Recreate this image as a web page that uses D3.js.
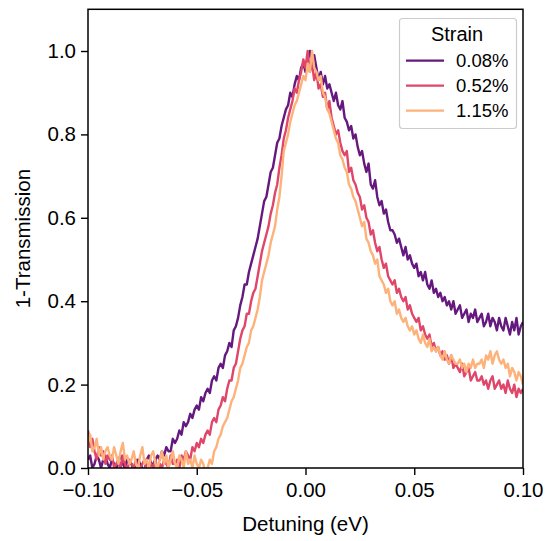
<!DOCTYPE html>
<html>
<head>
<meta charset="utf-8">
<script src="https://cdn.jsdelivr.net/npm/d3@7"></script>
<style>
  html, body { margin: 0; padding: 0; background: #fff; }
  svg { display: block; }
  text { font-family: "Liberation Sans", Arial, sans-serif; fill: #000; }
</style>
</head>
<body>
<svg id="chart" width="549" height="541"></svg>
<script>
// ---- data ----
const xStart = -0.100, xStep = 0.001;   // detuning grid (eV), 201 samples
const seriesNames = ["0.08%", "0.52%", "1.15%"];
const seriesColors = ["#65197f", "#df4669", "#fdb27b"];
const xTicks = [-0.10, -0.05, 0.00, 0.05, 0.10];
const yTicks = [0.0, 0.2, 0.4, 0.6, 0.8, 1.0];

const strain008 = [
  0.02,0.03,0.00,0.01,0.03,0.02,0.00,0.02,0.03,0.01,
  0.00,0.02,0.01,-0.01,0.02,0.03,0.01,0.00,0.02,0.01,
  0.01,-0.01,0.00,0.02,0.01,0.00,-0.01,0.02,0.03,0.01,
  0.01,0.02,0.03,0.02,0.04,0.03,0.05,0.04,0.04,0.07,
  0.06,0.07,0.09,0.08,0.11,0.10,0.11,0.13,0.12,0.14,
  0.15,0.14,0.17,0.16,0.18,0.19,0.18,0.21,0.22,0.21,
  0.24,0.25,0.24,0.27,0.28,0.30,0.29,0.33,0.34,0.36,
  0.39,0.41,0.44,0.44,0.47,0.49,0.51,0.53,0.55,0.58,
  0.61,0.64,0.65,0.68,0.71,0.72,0.75,0.78,0.79,0.82,
  0.84,0.86,0.87,0.90,0.89,0.92,0.94,0.93,0.96,0.97,
  0.95,0.98,1.00,0.97,0.99,0.96,0.93,0.95,0.92,0.94,
  0.91,0.92,0.90,0.88,0.90,0.87,0.86,0.88,0.84,0.83,
  0.81,0.82,0.79,0.80,0.77,0.75,0.76,0.73,0.71,0.73,
  0.68,0.67,0.69,0.65,0.63,0.64,0.61,0.62,0.59,0.57,
  0.57,0.56,0.54,0.55,0.53,0.51,0.53,0.50,0.51,0.49,
  0.48,0.49,0.46,0.47,0.45,0.47,0.44,0.43,0.45,0.42,
  0.43,0.41,0.42,0.40,0.41,0.39,0.40,0.38,0.40,0.37,
  0.38,0.39,0.36,0.37,0.38,0.35,0.37,0.36,0.38,0.35,
  0.36,0.37,0.34,0.35,0.37,0.34,0.36,0.35,0.33,0.36,
  0.34,0.33,0.36,0.34,0.32,0.35,0.33,0.36,0.32,0.34,
  0.35
];
const strain052 = [
  0.09,0.05,0.07,0.04,0.02,0.05,0.03,0.04,0.01,0.03,
  0.02,0.03,0.00,0.01,0.02,0.00,0.03,0.01,-0.01,0.02,
  0.01,0.00,0.02,-0.01,0.00,0.01,0.02,-0.01,0.00,0.01,
  0.00,0.02,-0.01,0.01,0.00,0.02,0.01,0.00,0.03,0.01,
  0.01,0.02,0.00,0.03,0.02,0.04,0.03,0.02,0.05,0.04,
  0.06,0.05,0.07,0.06,0.08,0.09,0.08,0.11,0.12,0.11,
  0.14,0.15,0.17,0.16,0.19,0.21,0.21,0.24,0.25,0.28,
  0.31,0.33,0.34,0.37,0.37,0.40,0.42,0.43,0.46,0.49,
  0.52,0.54,0.56,0.58,0.61,0.63,0.66,0.68,0.72,0.75,
  0.79,0.81,0.84,0.86,0.88,0.91,0.90,0.93,0.95,0.98,
  0.96,1.00,0.95,0.97,0.93,0.95,0.91,0.92,0.89,0.90,
  0.86,0.88,0.84,0.82,0.80,0.81,0.78,0.76,0.75,0.76,
  0.71,0.72,0.69,0.68,0.66,0.65,0.62,0.63,0.60,0.59,
  0.56,0.57,0.54,0.52,0.53,0.50,0.48,0.49,0.46,0.45,
  0.44,0.45,0.42,0.43,0.41,0.40,0.41,0.38,0.39,0.37,
  0.36,0.35,0.36,0.33,0.34,0.32,0.31,0.32,0.29,0.30,
  0.28,0.29,0.27,0.28,0.26,0.27,0.25,0.27,0.24,0.25,
  0.24,0.23,0.25,0.22,0.23,0.24,0.21,0.22,0.23,0.21,
  0.21,0.22,0.20,0.21,0.19,0.21,0.22,0.19,0.20,0.21,
  0.19,0.20,0.18,0.21,0.19,0.18,0.20,0.17,0.19,0.18,
  0.19
];
const strain115 = [
  0.06,0.08,0.04,0.05,0.07,0.03,0.05,0.02,0.04,0.05,
  0.03,0.02,0.05,0.03,0.01,0.04,0.06,0.02,0.03,0.01,
  0.02,0.04,0.01,0.00,0.03,0.05,0.01,0.02,0.00,0.03,
  0.04,0.01,0.00,0.02,0.04,0.01,0.03,0.00,0.02,0.04,
  0.01,0.00,0.03,0.02,0.00,0.04,0.01,0.02,0.00,0.03,
  0.01,0.00,0.02,0.01,-0.01,0.00,0.02,0.01,0.04,0.05,
  0.07,0.08,0.10,0.11,0.12,0.14,0.16,0.17,0.19,0.21,
  0.24,0.25,0.27,0.29,0.30,0.33,0.34,0.36,0.38,0.41,
  0.45,0.47,0.49,0.51,0.54,0.56,0.58,0.62,0.65,0.70,
  0.76,0.78,0.80,0.83,0.85,0.87,0.88,0.90,0.92,0.94,
  0.93,0.97,0.95,1.00,0.96,0.95,0.93,0.94,0.90,0.89,
  0.86,0.85,0.83,0.81,0.79,0.78,0.75,0.74,0.72,0.71,
  0.68,0.67,0.65,0.64,0.62,0.60,0.58,0.59,0.55,0.54,
  0.52,0.51,0.49,0.50,0.46,0.45,0.44,0.42,0.43,0.40,
  0.39,0.40,0.37,0.38,0.36,0.35,0.36,0.34,0.33,0.34,
  0.32,0.33,0.31,0.30,0.32,0.30,0.29,0.31,0.28,0.29,
  0.28,0.29,0.27,0.26,0.28,0.26,0.25,0.27,0.26,0.25,
  0.25,0.26,0.24,0.25,0.23,0.25,0.24,0.26,0.24,0.25,
  0.25,0.26,0.24,0.27,0.26,0.28,0.25,0.27,0.28,0.26,
  0.25,0.26,0.24,0.25,0.22,0.24,0.23,0.21,0.23,0.22,
  0.20
];
const seriesValues = [strain008, strain052, strain115];

// ---- layout ----
const svg = d3.select("#chart");
const pLeft = 88, pRight = 523, pTop = 9.3, pBottom = 468;
const x = d3.scaleLinear().domain([-0.1, 0.1]).range([pLeft, pRight]);
const y = d3.scaleLinear().domain([0, 1.1]).range([pBottom, pTop]);

svg.append("defs").append("clipPath").attr("id", "plotclip")
  .append("rect").attr("x", pLeft).attr("y", pTop)
  .attr("width", pRight - pLeft).attr("height", pBottom - pTop);

const line = d3.line()
  .x((d, i) => x(xStart + i * xStep))
  .y(d => y(d));

const gLines = svg.append("g").attr("clip-path", "url(#plotclip)");
seriesValues.forEach((vals, k) => {
  gLines.append("path")
    .datum(vals)
    .attr("d", line)
    .attr("fill", "none")
    .attr("stroke", seriesColors[k])
    .attr("stroke-width", 2.4)
    .attr("stroke-linejoin", "round");
});

// axes
const fmtX = d3.format(".2f");
const fmtY = d3.format(".1f");
const xAxis = svg.append("g").attr("transform", `translate(0,${pBottom})`)
  .call(d3.axisBottom(x).tickValues(xTicks).tickFormat(fmtX).tickSize(7).tickPadding(7));
const yAxis = svg.append("g").attr("transform", `translate(${pLeft},0)`)
  .call(d3.axisLeft(y).tickValues(yTicks).tickFormat(fmtY).tickSize(7).tickPadding(5));
[xAxis, yAxis].forEach(g => {
  g.select(".domain").remove();
  g.selectAll(".tick line").attr("stroke", "#000").attr("stroke-width", 1.4);
  g.selectAll(".tick text").attr("font-size", 20.5).attr("fill", "#000")
    .style("font-family", '"Liberation Sans", Arial, sans-serif');
});

// frame
svg.append("rect").attr("x", pLeft).attr("y", pTop)
  .attr("width", pRight - pLeft).attr("height", pBottom - pTop)
  .attr("fill", "none").attr("stroke", "#000").attr("stroke-width", 1.5);

// axis labels
svg.append("text").attr("x", (pLeft + pRight) / 2).attr("y", 531)
  .attr("text-anchor", "middle").attr("font-size", 20.5).text("Detuning (eV)");
svg.append("text")
  .attr("transform", `translate(30,${(pTop + pBottom) / 2}) rotate(-90)`)
  .attr("text-anchor", "middle").attr("font-size", 20.5).text("1-Transmission");

// legend
const lg = svg.append("g");
lg.append("rect").attr("x", 399.5).attr("y", 18.5).attr("width", 117).attr("height", 110)
  .attr("rx", 3).attr("fill", "#fff").attr("fill-opacity", 0.8)
  .attr("stroke", "#cccccc").attr("stroke-width", 1.2);
lg.append("text").attr("x", 457).attr("y", 40.5).attr("text-anchor", "middle")
  .attr("font-size", 20).text("Strain");
seriesNames.forEach((name, k) => {
  const cy = 60.7 + k * 25;
  lg.append("line").attr("x1", 406).attr("x2", 444).attr("y1", cy).attr("y2", cy)
    .attr("stroke", seriesColors[k]).attr("stroke-width", 2.2);
  lg.append("text").attr("x", 456).attr("y", cy + 6.5).attr("font-size", 18.5).text(name);
});
</script>
</body>
</html>
